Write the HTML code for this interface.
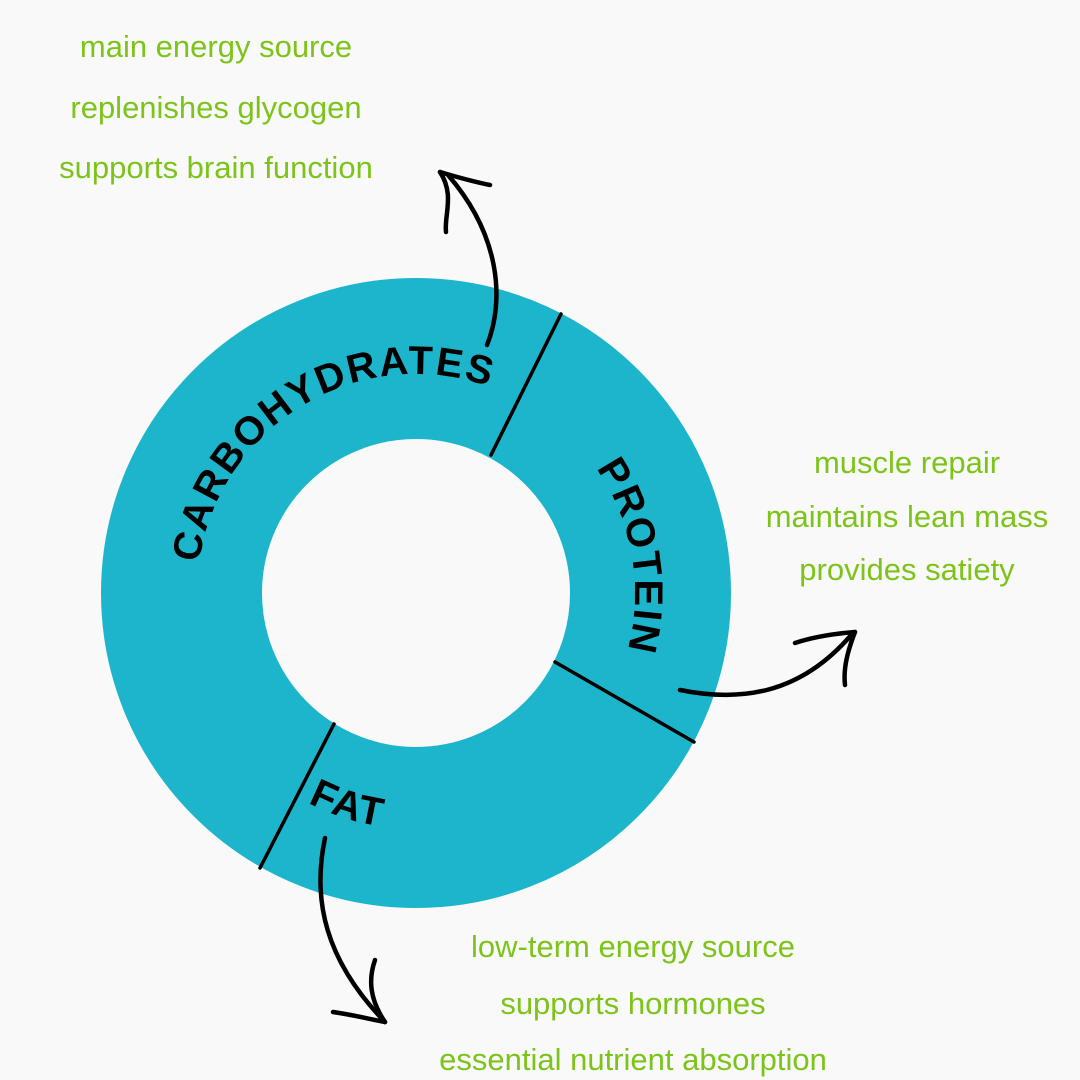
<!DOCTYPE html>
<html><head><meta charset="utf-8"><style>
html,body{margin:0;padding:0;background:#f9f9f9;}
svg{display:block;}
</style></head><body>
<svg width="1080" height="1080" viewBox="0 0 1080 1080" xmlns="http://www.w3.org/2000/svg">
<rect width="1080" height="1080" fill="#f9f9f9"/>
<circle cx="416" cy="593" r="234.5" fill="none" stroke="#1cb5cb" stroke-width="161"/>
<g stroke="#000" stroke-width="3.5" fill="none" stroke-linecap="round">
<line x1="491" y1="455" x2="561" y2="314"/>
<line x1="555" y1="662" x2="694" y2="742"/>
<line x1="334" y1="724" x2="260" y2="868"/>
</g>
<defs>
<path id="cw" d="M416,593 m-219,0 a219,219 0 1,1 438,0 a219,219 0 1,1 -438,0"/>
<path id="ccw" d="M180,593 a236,236 0 0,0 472,0"/>
</defs>
<g font-family="Liberation Sans, sans-serif" font-weight="bold" font-size="40" fill="#000" letter-spacing="2">
<text><textPath href="#cw" startOffset="30">CARBOHYDRATES</textPath></text>
<text><textPath href="#cw" startOffset="555">PROTEIN</textPath></text>
<text><textPath href="#ccw" startOffset="258">FAT</textPath></text>
</g>
<g stroke="#000" stroke-width="4.5" fill="none" stroke-linecap="round">
<path d="M487,345 C505,300 500,235 448,175"/>
<path d="M440,172 C460,178 475,182 490,185"/>
<path d="M440,172 C455,195 444,215 446,232"/>
<path d="M680,690 C740,702 800,695 852,634"/>
<path d="M855,632 C830,634 810,638 795,643"/>
<path d="M855,632 C848,650 843,668 845,685"/>
<path d="M325,838 C312,900 325,960 385,1022"/>
<path d="M385,1022 C365,1018 348,1014 333,1012"/>
<path d="M385,1022 C370,1000 368,980 375,960"/>
</g>
<g font-family="Liberation Sans, sans-serif" font-size="31" fill="#7dc41a" text-anchor="middle">
<text x="216" y="57">main energy source</text>
<text x="216" y="118">replenishes glycogen</text>
<text x="216" y="178">supports brain function</text>
<text x="907" y="473">muscle repair</text>
<text x="907" y="527">maintains lean mass</text>
<text x="907" y="580">provides satiety</text>
<text x="633" y="957">low-term energy source</text>
<text x="633" y="1014">supports hormones</text>
<text x="633" y="1070">essential nutrient absorption</text>
</g>
</svg>
</body></html>
